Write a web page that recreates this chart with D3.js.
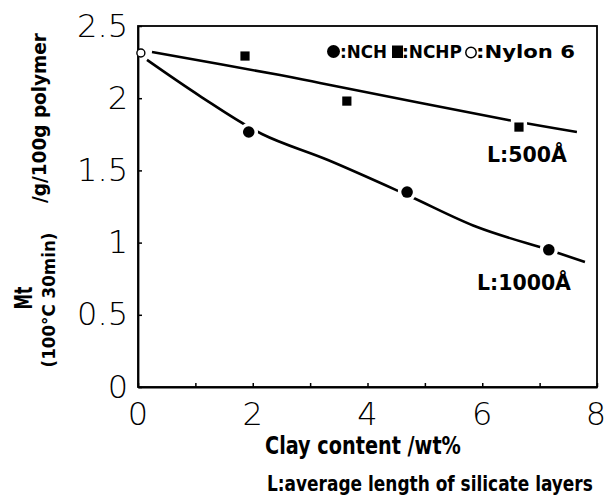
<!DOCTYPE html>
<html><head><meta charset="utf-8">
<script src="https://cdn.jsdelivr.net/npm/d3@7"></script>
<style>body{margin:0;background:#fff}</style></head><body>
<svg id="c" width="606" height="497"></svg>
<script>
// ---- data ----
const nchX = [1.93, 4.69, 7.16];
const nchY = [1.766, 1.35, 0.95];
const nchpX = [1.865, 3.64, 6.64];
const nchpY = [2.292, 1.98, 1.80];
const nylonX = [0.05];
const nylonY = [2.313];
const fit500X = [0.244, 2.475, 3.17, 6.45, 7.65];
const fit500Y = [2.32, 2.16, 2.105, 1.849, 1.766];
const fit1000X = [0.157, 1.08, 2.16, 3.31, 4.69, 5.91, 7.16, 7.79];
const fit1000Y = [2.265, 2.015, 1.752, 1.572, 1.33, 1.108, 0.949, 0.866];
const xTickValues = [0, 1, 2, 3, 4, 5, 6, 7, 8];
const xLabelValues = [0, 2, 4, 6, 8];
const xLabelTexts = ["0", "2", "4", "6", "8"];
const yTickValues = [0, 0.5, 1, 1.5, 2, 2.5];
const yLabelTexts = ["0", "0.5", "1", "1.5", "2", "2.5"];

const svg = d3.select("#c");
const x = d3.scaleLinear([0, 8], [138, 597]);
const y = d3.scaleLinear([0, 2.5], [387, 26]);
const bold = "'Liberation Sans Narrow','DejaVu Sans Condensed','Arial Narrow',sans-serif";
const thin = "'DejaVu Sans','Lato',sans-serif";

// frame
svg.append("rect").attr("x", x(0)).attr("y", y(2.5)).attr("width", x(8) - x(0)).attr("height", y(0) - y(2.5))
  .attr("fill", "none").attr("stroke", "#000").attr("stroke-width", 1.8);

// axes (ticks inward)
const xAxis = d3.axisBottom(x).tickValues(xTickValues).tickSizeInner(-4).tickSizeOuter(0).tickFormat("");
svg.append("g").attr("transform", `translate(0,${y(0)})`).call(xAxis)
  .call(g => g.select(".domain").attr("stroke-width", 1.8))
  .call(g => g.selectAll(".tick line").attr("stroke-width", 1.5));
const yAxis = d3.axisLeft(y).tickValues(yTickValues).tickSizeInner(-4).tickSizeOuter(0).tickFormat("");
svg.append("g").attr("transform", `translate(${x(0)},0)`).call(yAxis)
  .call(g => g.select(".domain").attr("stroke-width", 1.8))
  .call(g => g.selectAll(".tick line").attr("stroke-width", 1.5));

// tick labels
svg.append("g").selectAll("text").data(xLabelValues).join("text")
  .attr("x", d => x(d) + (d === 8 ? -1 : 0)).attr("y", 425)
  .attr("text-anchor", "middle").attr("font-family", thin).attr("font-weight", 200)
  .attr("font-size", 32).text((d, i) => xLabelTexts[i]);
svg.append("g").selectAll("text").data(yTickValues).join("text")
  .attr("x", 128).attr("y", d => y(d) + 10.5)
  .attr("text-anchor", "end").attr("font-family", thin).attr("font-weight", 200)
  .attr("font-size", 32).text((d, i) => yLabelTexts[i]);

// fitted lines
const line = d3.line().x(d => x(d[0])).y(d => y(d[1])).curve(d3.curveCatmullRom.alpha(0.5));
svg.append("path").datum(fit500X.map((v, i) => [v, fit500Y[i]])).attr("d", line)
  .attr("fill", "none").attr("stroke", "#000").attr("stroke-width", 2.6);
svg.append("path").datum(fit1000X.map((v, i) => [v, fit1000Y[i]])).attr("d", line)
  .attr("fill", "none").attr("stroke", "#000").attr("stroke-width", 2.6);

// markers (white halo makes the gaps in the lines)
const nch = nchX.map((v, i) => [v, nchY[i]]);
const nchp = nchpX.map((v, i) => [v, nchpY[i]]);
const nylon = nylonX.map((v, i) => [v, nylonY[i]]);
svg.append("g").selectAll("circle").data(nch).join("circle")
  .attr("cx", d => x(d[0])).attr("cy", d => y(d[1])).attr("r", 5.8)
  .attr("fill", "#000").attr("stroke", "#fff").attr("stroke-width", 7).attr("paint-order", "stroke");
svg.append("g").selectAll("rect").data(nchp).join("rect")
  .attr("x", d => x(d[0]) - 4.6).attr("y", d => y(d[1]) - 4.6).attr("width", 9.2).attr("height", 9.2)
  .attr("fill", "#000").attr("stroke", "#fff").attr("stroke-width", 7).attr("paint-order", "stroke");
svg.append("g").selectAll("circle").data(nylon).join("circle")
  .attr("cx", d => x(d[0])).attr("cy", d => y(d[1])).attr("r", 4)
  .attr("fill", "#fff").attr("stroke", "#000").attr("stroke-width", 1.4);

// text helper: natural text, horizontally scaled to the target width
function btxt(tx, ty, len, size, s) {
  const t = svg.append("text").attr("x", 0).attr("y", 0).attr("font-family", bold).attr("font-weight", "bold")
    .attr("font-size", size).text(s);
  const w = t.node().getComputedTextLength() || len;
  t.attr("transform", `translate(${tx},${ty}) scale(${len / w},1)`);
}
svg.append("circle").attr("cx", 333.5).attr("cy", 51.5).attr("r", 6.5).attr("fill", "#000");
btxt(340, 58, 47, 18.5, ":NCH");
svg.append("rect").attr("x", 392).attr("y", 45.5).attr("width", 11).attr("height", 12.5).attr("fill", "#000");
btxt(402, 58, 60, 18.5, ":NCHP");
svg.append("circle").attr("cx", 471).attr("cy", 52.5).attr("r", 5.2).attr("fill", "none").attr("stroke", "#000").attr("stroke-width", 1.5);
btxt(476, 58, 99, 18.5, ":Nylon 6");

// line labels
btxt(487, 162, 80, 21, "L:500Å");
btxt(477, 290, 94, 21, "L:1000Å");

// axis titles
btxt(265, 454, 196, 24, "Clay content /wt%");
btxt(267, 491, 326, 21, "L:average length of silicate layers");

function vtxt(cx, cy, len, size, s) {
  const t = svg.append("text").attr("x", 0).attr("y", 0)
    .attr("text-anchor", "middle").attr("font-family", bold).attr("font-weight", "bold")
    .attr("font-size", size).text(s);
  const w = t.node().getComputedTextLength() || len;
  t.attr("transform", `translate(${cx},${cy}) rotate(-90) scale(${len / w},1)`);
}
vtxt(32, 298, 23, 25, "Mt");
vtxt(55, 300, 135, 18.5, "(100°C 30min)");
vtxt(46, 118, 170, 20, "/g/100g polymer");
</script>
</body></html>
